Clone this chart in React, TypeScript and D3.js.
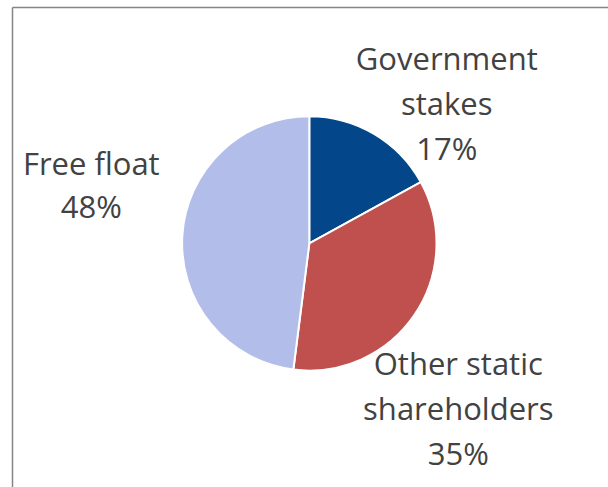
import React from "react";
import * as d3 from "d3";

const categories = ["Government stakes", "Other static shareholders", "Free float"];
const values = [17, 35, 48];
const labelLines = [["Government", "stakes", "17%"], ["Other static", "shareholders", "35%"], ["Free float", "48%"]];

const colors = ["#03478a", "#c0504d", "#b3bdea"];
// label anchor offsets relative to pie center (layout only)
const labelOffsets: [number, number][] = [
  [137.5, -173],
  [149, 132],
  [-218, -68],
];

export default function App() {
  const W = 608, H = 487;
  const cx = 309.3, cy = 243.4, r = 127.2;
  const pie = d3.pie<number>().sort(null).value((d) => d)(values);
  const arc = d3.arc<d3.PieArcDatum<number>>().innerRadius(0).outerRadius(r);
  return (
    <div style={{ position: "fixed", left: 0, top: 0 }}>
      <svg width={W} height={H} style={{ display: "block", background: "#fff" }}>
        <line x1={12.5} y1={7.5} x2={12.5} y2={H} stroke="#858585" strokeWidth={1.5} />
        <line x1={12.5} y1={7.5} x2={W} y2={7.5} stroke="#858585" strokeWidth={1.5} />
        <g transform={`translate(${cx},${cy})`}>
          {pie.map((p, i) => (
            <path key={categories[i]} d={arc(p) || ""} fill={colors[i]} stroke="#fff" strokeWidth={2} />
          ))}
        </g>
        {labelLines.map((lines, i) => (
          <text
            key={categories[i]}
            x={cx + labelOffsets[i][0]}
            y={cy + labelOffsets[i][1]}
            textAnchor="middle"
            fontFamily="'Open Sans', sans-serif"
            fontSize={31}
            fill="#424242"
          >
            {lines.map((l, j) => (
              <tspan key={j} x={cx + labelOffsets[i][0]} dy={j === 0 ? 0 : i === 2 ? 43 : 45}>
                {l}
              </tspan>
            ))}
          </text>
        ))}
      </svg>
    </div>
  );
}
